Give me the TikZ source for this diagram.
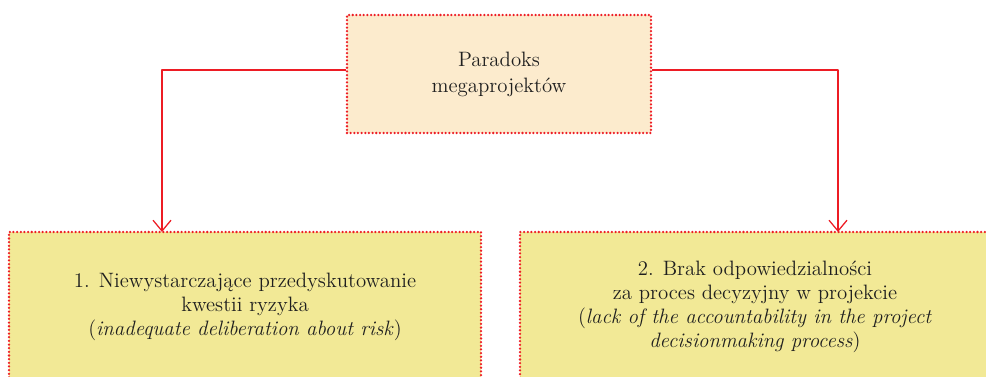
\documentclass[tikz,border=0pt]{standalone}
\usetikzlibrary{arrows.meta}

\definecolor{linered}{HTML}{ED1C24}
\definecolor{topfill}{HTML}{FCEBCD}
\definecolor{boxfill}{HTML}{F2E996}

\tikzset{
  dotbox/.style={draw=linered,line width=1.8pt,dash pattern=on 0pt off 2.6pt,
    line cap=round,align=center,inner sep=0pt,text=black!88},
  link/.style={draw=linered,line width=.9pt,-{Straight Barb[length=2.7mm,width=4.5mm]}}
}

\begin{document}
\begin{tikzpicture}[x=.025cm,y=.025cm,line join=round]
    \useasboundingbox (0,0) rectangle (986,376);
    % top
    \node[dotbox,fill=topfill,minimum width=304*.025cm,minimum height=118*.025cm,
      font=\fontsize{14.8}{18.4}\selectfont] (paradoks) at (499,302)
      {Paradoks\\megaprojektów};
    % bottom
    \node[dotbox,fill=boxfill,minimum width=472*.025cm,minimum height=150*.025cm,
      font=\fontsize{14.8}{17}\selectfont] (ryzyko) at (245,69)
      {1. Niewystarczające przedyskutowanie\\kwestii ryzyka\\(\textit{inadequate deliberation about risk})};
    \node[dotbox,fill=boxfill,minimum width=470*.025cm,minimum height=150*.025cm,
      font=\fontsize{14.8}{17}\selectfont] (odpow) at (755,69)
      {2. Brak odpowiedzialności\\za proces decyzyjny w projekcie\\(\textit{lack of the accountability in the project}\\\textit{decisionmaking process})};
    \coordinate (tipL) at (162,144);
    \coordinate (tipR) at (838,144);
    \draw[link] ([yshift=.1cm]paradoks.west) -| (tipL);
    \draw[link] ([yshift=.1cm]paradoks.east) -| (tipR);
\end{tikzpicture}
\end{document}
